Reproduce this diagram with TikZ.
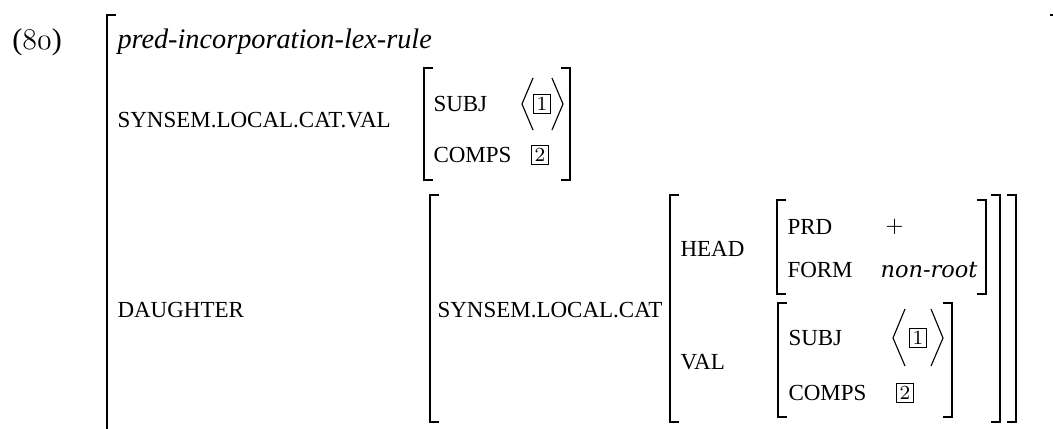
\documentclass[tikz,border=0pt]{standalone}
\usepackage{fontspec}
\setmainfont{Liberation Serif}
\newfontfamily\atomfont{DejaVu Serif}
\usetikzlibrary{positioning}
\tikzstyle{feat} = [anchor=west, inner sep=0pt, font=\fontsize{9.2}{11}\selectfont]
\tikzstyle{atom} = [anchor=west, inner sep=0pt, font=\fontsize{11}{13}\selectfont]
\tikzstyle{tagbox} = [draw, line width=0.4pt, inner sep=1.3pt, font=\footnotesize]
\tikzstyle{brack} = [line width=0.8pt]
\tikzstyle{angle} = [line width=0.45pt]
% left and right bracket: x, top, bottom
\newcommand{\lbrk}[3]{\draw[brack] (#1+9,#2) -- (#1,#2) -- (#1,#3) -- (#1+9,#3);}
\newcommand{\rbrk}[3]{\draw[brack] (#1-9,#2) -- (#1,#2) -- (#1,#3) -- (#1-9,#3);}
\begin{document}
\begin{tikzpicture}[x=0.4pt,y=-0.4pt]
\useasboundingbox (0,0) rectangle (1053,428);
% example number and type
\node[atom, font=\fontsize{12}{14}\selectfont] (exno) at (12,42) {($\mathnormal{80}$)};
\node[atom, font=\fontsize{11.3}{13}\selectfont\itshape] (type) at (117,42) {pred-incorporation-lex-rule};
\lbrk{107}{15}{440}
\draw[brack] (1050,15) -- (1053,15);
% synsem value
\node[feat] (ssval) at (117,120) {SYNSEM.LOCAL.CAT.VAL};
\lbrk{424}{68}{180} \rbrk{570}{68}{180}
\node[feat] (subj1) at (433,104) {SUBJ};
\node[tagbox] (tag1a) at (542,104) {$1$};
\draw[angle] (533,78) -- (522,104) -- (533,130);
\draw[angle] (552,78) -- (563,104) -- (552,130);
\node[feat] (comps1) at (433,155) {COMPS};
\node[tagbox] (tag2a) at (540,155) {$2$};
% daughter
\node[feat] (dtr) at (117,310) {DAUGHTER};
\lbrk{430}{195}{422} \rbrk{1016}{195}{422}
\node[feat] (slc) at (437,310) {SYNSEM.LOCAL.CAT};
\lbrk{670}{195}{422} \rbrk{1000}{195}{422}
\node[feat] (head) at (680,249) {HEAD};
\lbrk{777}{200}{294} \rbrk{986}{200}{294}
\node[feat] (prd) at (787,227) {PRD};
\node[atom, font=\fontsize{9}{11}\selectfont] (plus) at (885,227) {$+$};
\node[feat] (form) at (787,270) {FORM};
\node[atom, font=\fontsize{9}{11}\selectfont\atomfont\itshape] (nonroot) at (880,270) {non-root};
\node[feat] (val) at (680,362) {VAL};
\lbrk{778}{303}{417} \rbrk{952}{303}{417}
\node[feat] (subj2) at (788,338) {SUBJ};
\node[tagbox] (tag1b) at (918,338) {$1$};
\draw[angle] (905,309) -- (893,338) -- (905,366);
\draw[angle] (931,309) -- (943,338) -- (931,366);
\node[feat] (comps2) at (788,393) {COMPS};
\node[tagbox] (tag2b) at (905,393) {$2$};
\end{tikzpicture}
\end{document}
